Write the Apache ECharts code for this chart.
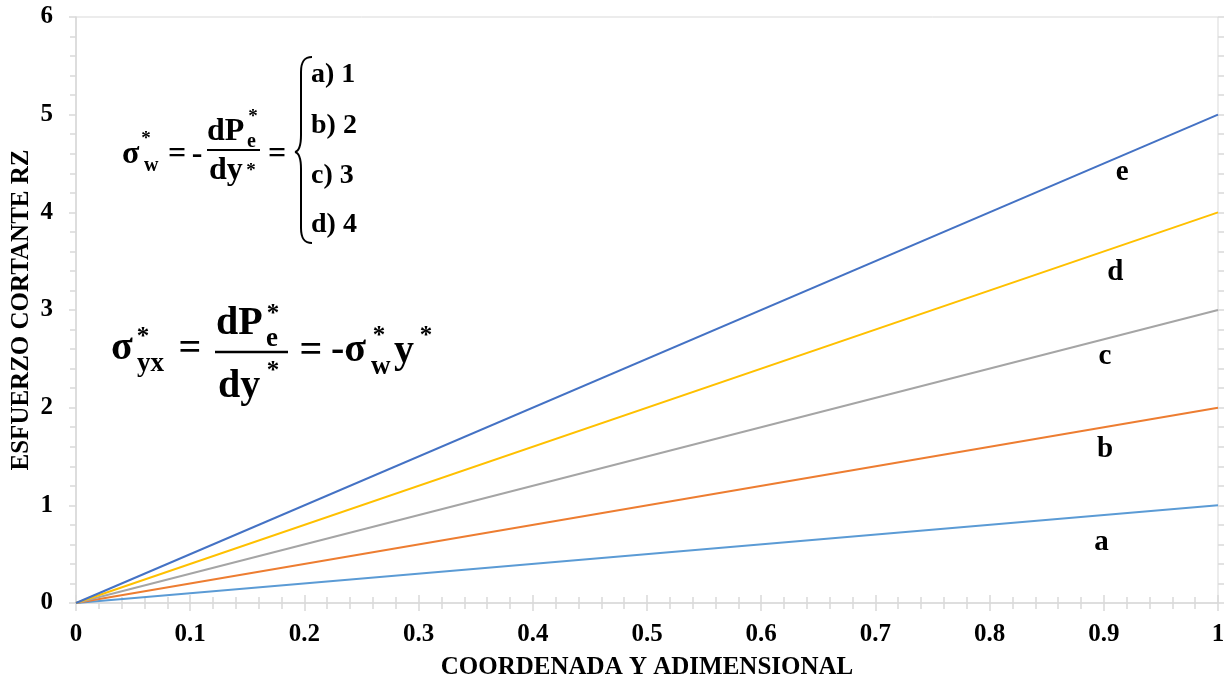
<!DOCTYPE html>
<html>
<head>
<meta charset="utf-8">
<title>Esfuerzo cortante</title>
<script src="https://cdn.jsdelivr.net/npm/echarts@6/dist/echarts.min.js"></script>
<style>
  html, body { margin: 0; padding: 0; background: #fff; }
  #chart { width: 1231px; height: 679px; }
</style>
</head>
<body>
<div id="chart"></div>
<script>
// Dimensionless coordinate (x) and shear stress lines for each wall stress value
const xValues = [0, 1];
const serieA = [0, 1];
const serieB = [0, 2];
const serieC = [0, 3];
const serieD = [0, 4];
const serieE = [0, 5];

const seriesNames = ['a', 'b', 'c', 'd', 'e'];
const seriesValues = [serieA, serieB, serieC, serieD, serieE];
const seriesColors = ['#5B9BD5', '#ED7D31', '#A5A5A5', '#FFC000', '#4472C4'];

// Where each curve letter sits, in data units
const curveLabelX = [0.898, 0.901, 0.901, 0.910, 0.916];
const curveLabelY = [0.615, 1.57, 2.52, 3.38, 4.41];

const SERIF = '"Liberation Serif", "Times New Roman", serif';
const AXIS_COLOR = '#d9d9d9';

const grid = { left: 76, right: 13, top: 17, bottom: 76 };
const W = 1231, H = 679;
const gridW = W - grid.left - grid.right;
const gridH = H - grid.top - grid.bottom;

const chart = echarts.init(document.getElementById('chart'), null, { renderer: 'canvas' });

const lineSeries = seriesNames.map((name, i) => ({
  name: name,
  type: 'line',
  xAxisIndex: 0,
  yAxisIndex: 0,
  data: xValues.map((x, k) => [x, seriesValues[i][k]]),
  showSymbol: false,
  symbol: 'none',
  lineStyle: { color: seriesColors[i], width: 2 },
  itemStyle: { color: seriesColors[i] },
  silent: true,
  z: 2
}));

function txt(text, x, y, size, align) {
  return {
    type: 'text',
    x: x, y: y,
    silent: true,
    style: {
      text: text,
      font: 'bold ' + size + 'px ' + SERIF,
      fill: '#000',
      align: align || 'left',
      verticalAlign: 'middle'
    },
    z: 10
  };
}
function seg(x1, y1, x2, y2, w) {
  return {
    type: 'line', silent: true,
    shape: { x1: x1, y1: y1, x2: x2, y2: y2 },
    style: { stroke: '#000', lineWidth: w || 2 },
    z: 10
  };
}
function curve(x1, y1, c1x, c1y, c2x, c2y, x2, y2) {
  return {
    type: 'bezierCurve', silent: true,
    shape: { x1: x1, y1: y1, cpx1: c1x, cpy1: c1y, cpx2: c2x, cpy2: c2y, x2: x2, y2: y2 },
    style: { stroke: '#000', lineWidth: 2, fill: null },
    z: 10
  };
}

// Wall stress definition with its four cases
const eqWall = [
  txt('\u03c3', 122, 155, 32),
  txt('*', 146, 139, 19, 'center'),
  txt('w', 144, 166, 20),
  txt('=', 177, 155, 32, 'center'),
  txt('-', 197, 155, 32, 'center'),
  txt('dP', 207, 132, 32),
  txt('*', 253, 117, 19, 'center'),
  txt('e', 247, 142, 20),
  seg(207, 150, 260, 150, 2),
  txt('dy', 209, 171, 32),
  txt('*', 251, 171, 19, 'center'),
  txt('=', 277, 155, 32, 'center'),
  // curly brace
  curve(312, 57, 304, 57, 301, 62, 301, 72),
  seg(301, 72, 301, 135, 2),
  curve(301, 135, 301, 146, 299, 151, 295, 152),
  curve(295, 152, 299, 153, 301, 158, 301, 169),
  seg(301, 169, 301, 228, 2),
  curve(301, 228, 301, 238, 304, 243, 312, 243),
  txt('a) 1', 311, 75, 28),
  txt('b) 2', 311, 126, 28),
  txt('c) 3', 311, 176, 28),
  txt('d) 4', 311, 225, 28)
];

// Shear stress profile relation
const eqShear = [
  txt('\u03c3', 111, 349, 40),
  txt('*', 143, 338, 25, 'center'),
  txt('yx', 137, 364, 27),
  txt('=', 190, 350, 40, 'center'),
  txt('dP', 216, 324, 40),
  txt('*', 273, 315, 25, 'center'),
  txt('e', 266, 339, 27),
  seg(215, 352, 288, 352, 2.5),
  txt('dy', 218, 387, 40),
  txt('*', 273, 372, 25, 'center'),
  txt('=', 311, 352, 40, 'center'),
  txt('-\u03c3', 331, 351, 40),
  txt('*', 379, 337, 25, 'center'),
  txt('w', 371, 367, 27),
  txt('y', 394, 352, 40),
  txt('*', 426, 337, 25, 'center')
];

const tickLabelStyle = {
  fontFamily: SERIF,
  fontWeight: 'bold',
  fontSize: 25,
  color: '#000'
};

const option = {
  animation: false,
  backgroundColor: '#fff',
  grid: Object.assign({
    show: true,
    borderColor: AXIS_COLOR,
    borderWidth: 1,
    backgroundColor: 'transparent',
    containLabel: false,
    outerBoundsMode: 'none'
  }, grid),
  xAxis: [
    {
      type: 'value',
      min: 0, max: 1, interval: 0.1,
      position: 'bottom',
      name: 'COORDENADA Y ADIMENSIONAL',
      nameLocation: 'middle',
      nameGap: 52,
      nameMoveOverlap: false,
      nameTextStyle: { fontFamily: SERIF, fontWeight: 'bold', fontSize: 25, color: '#000' },
      axisLine: { show: true, onZero: false, lineStyle: { color: AXIS_COLOR, width: 1.5 } },
      axisTick: { show: true, length: 8, lineStyle: { color: AXIS_COLOR, width: 1.5 } },
      minorTick: { show: true, splitNumber: 5, length: 6, lineStyle: { color: AXIS_COLOR, width: 1.5 } },
      splitLine: { show: false },
      axisLabel: Object.assign({ margin: 19, formatter: v => String(+v.toFixed(1)) }, tickLabelStyle)
    },
    {
      type: 'value',
      min: 0, max: 1, interval: 0.1,
      position: 'top',
      offset: -gridH,
      axisLine: { show: false },
      axisTick: { show: true, length: 8, lineStyle: { color: AXIS_COLOR, width: 1.5 } },
      minorTick: { show: true, splitNumber: 5, length: 6, lineStyle: { color: AXIS_COLOR, width: 1.5 } },
      splitLine: { show: false },
      axisLabel: { show: false }
    }
  ],
  yAxis: [
    {
      type: 'value',
      min: 0, max: 6, interval: 1,
      position: 'left',
      name: 'ESFUERZO CORTANTE RZ',
      nameLocation: 'middle',
      nameGap: 42,
      nameMoveOverlap: false,
      nameRotate: 90,
      nameTextStyle: { fontFamily: SERIF, fontWeight: 'bold', fontSize: 25, color: '#000' },
      axisLine: { show: true, onZero: false, lineStyle: { color: AXIS_COLOR, width: 1.5 } },
      axisTick: { show: true, length: 7, lineStyle: { color: AXIS_COLOR, width: 1.5 } },
      minorTick: { show: true, splitNumber: 5, length: 6, lineStyle: { color: AXIS_COLOR, width: 1.5 } },
      splitLine: { show: false },
      axisLabel: Object.assign({ margin: 23 }, tickLabelStyle)
    },
    {
      type: 'value',
      min: 0, max: 6, interval: 1,
      position: 'right',
      offset: -gridW,
      axisLine: { show: false },
      axisTick: { show: true, length: 6, lineStyle: { color: AXIS_COLOR, width: 1.5 } },
      minorTick: { show: true, splitNumber: 5, length: 6, lineStyle: { color: AXIS_COLOR, width: 1.5 } },
      splitLine: { show: false },
      axisLabel: { show: false }
    }
  ],
  series: lineSeries,
  graphic: { elements: eqWall.concat(eqShear) }
};

chart.setOption(option);

// Curve letters placed through the chart's own coordinate system
const curveLetters = seriesNames.map((n, i) => {
  const p = chart.convertToPixel({ xAxisIndex: 0, yAxisIndex: 0 }, [curveLabelX[i], curveLabelY[i]]);
  return txt(n, p[0], p[1], 29, 'center');
});

chart.setOption({ graphic: { elements: eqWall.concat(eqShear, curveLetters) } });
</script>
</body>
</html>
